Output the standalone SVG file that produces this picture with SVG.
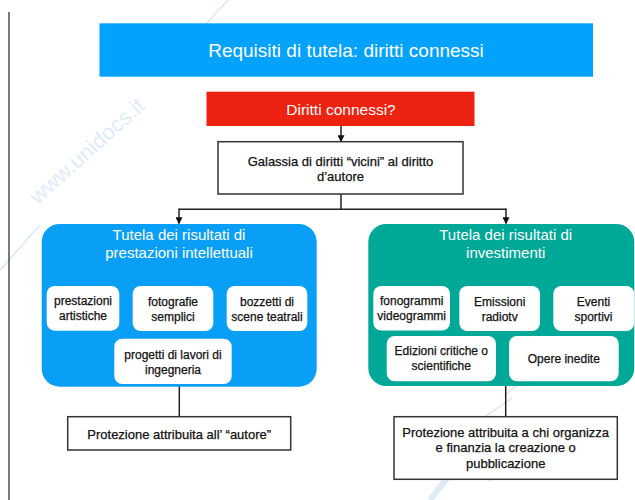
<svg xmlns="http://www.w3.org/2000/svg" width="635" height="500" viewBox="0 0 635 500">
<style>
text{font-family:"Liberation Sans",Arial,Helvetica,sans-serif;text-anchor:middle}
.w{fill:#fff}
.k{fill:#111;stroke:#111;stroke-width:0.25}
.t15{font-size:15px}
.s12{font-size:12px}
.s13{font-size:13px}
.box{fill:#fff;stroke:#333;stroke-width:1.5}
.sub{fill:#fff}
.ln{stroke:#222;stroke-width:1.5;fill:none}
.wm{stroke:#d9e9f8;stroke-width:1.5;fill:none}
</style>
<defs>
<marker id="ah" viewBox="0 0 10 10" refX="9" refY="5" markerWidth="7" markerHeight="7" markerUnits="userSpaceOnUse" orient="auto">
<path d="M0,0 L10,5 L0,10 z" fill="#111"/>
</marker>
</defs>
<rect width="635" height="500" fill="#fff"/>
<g id="watermark">
<line class="wm" x1="228" y1="0" x2="162" y2="72"/>
<line class="wm" x1="40" y1="225" x2="0" y2="270"/>
<line class="wm" x1="635" y1="283" x2="505" y2="395"/>
<line class="wm" x1="512" y1="398" x2="395" y2="478"/>
<text x="0" y="0" transform="translate(38,205) rotate(-42)" style="font-size:22px;text-anchor:start;fill:#dfecf8">www.unidocs.it</text>
<path d="M430,500 L455,468 Q468,455 480,468 L492,480" stroke="#dfecf8" stroke-width="6" fill="none"/>
</g>
<line x1="9" y1="12" x2="9" y2="500" stroke="#222" stroke-width="1.2"/>
<g id="title">
<rect x="99.5" y="23.3" width="493.5" height="53.4" fill="#03A2FD"/>
<text class="w" x="346" y="56.8" style="font-size:19px">Requisiti di tutela: diritti connessi</text>
</g>
<g id="connectors">
<line class="ln" x1="341" y1="126" x2="341" y2="141.5" marker-end="url(#ah)"/>
<polyline class="ln" points="341,194 341,209.3"/>
<polyline class="ln" points="179,209.3 506,209.3"/>
<line class="ln" x1="179" y1="208.6" x2="179" y2="223.5" marker-end="url(#ah)"/>
<line class="ln" x1="506" y1="208.6" x2="506" y2="223.5" marker-end="url(#ah)"/>
<line class="ln" x1="179.3" y1="386" x2="179.3" y2="417"/>
<line class="ln" x1="505.7" y1="386" x2="505.7" y2="417"/>
</g>
<g id="diritti">
<rect x="206.5" y="91.7" width="268" height="34.3" fill="#EE2210"/>
<text class="w" x="341" y="114.5" style="font-size:15.5px">Diritti connessi?</text>
</g>
<g id="galassia">
<rect class="box" x="218" y="141.7" width="245" height="52.3"/>
<text class="k s13" x="340.5" y="165.5">Galassia di diritti “vicini” al diritto</text>
<text class="k s13" x="340.5" y="180.7">d’autore</text>
</g>
<g id="prestazioni-intellettuali">
<rect x="41.7" y="224" width="275" height="162.7" rx="18" fill="#0A9FF6"/>
<text class="w t15" x="179" y="239.5">Tutela dei risultati di</text>
<text class="w t15" x="179" y="257.5">prestazioni intellettuali</text>
</g>
<g id="prestazioni-artistiche">
<rect class="sub" x="46.7" y="286" width="72.6" height="44.7" rx="8"/>
<text class="k s12" x="83" y="305">prestazioni</text>
<text class="k s12" x="83" y="319.5">artistiche</text>
</g>
<g id="fotografie">
<rect class="sub" x="132.7" y="286" width="80.6" height="45" rx="8"/>
<text class="k s12" x="173" y="305.5">fotografie</text>
<text class="k s12" x="173" y="320.5">semplici</text>
</g>
<g id="bozzetti">
<rect class="sub" x="226.7" y="286" width="80.6" height="45" rx="8"/>
<text class="k s12" x="267" y="305.5">bozzetti di</text>
<text class="k s12" x="267" y="320.5">scene teatrali</text>
</g>
<g id="progetti">
<rect class="sub" x="114.3" y="338.7" width="117.4" height="45.3" rx="8"/>
<text class="k s12" x="173" y="359">progetti di lavori di</text>
<text class="k s12" x="173" y="373.5">ingegneria</text>
</g>
<g id="investimenti">
<rect x="368.3" y="224" width="266" height="162" rx="18" fill="#00A898"/>
<text class="w t15" x="505.7" y="239.5">Tutela dei risultati di</text>
<text class="w t15" x="505.7" y="257.5">investimenti</text>
</g>
<g id="fonogrammi">
<rect class="sub" x="373.3" y="286" width="76.7" height="44.5" rx="8"/>
<text class="k s12" x="411.7" y="305">fonogrammi</text>
<text class="k s12" x="411.7" y="319.5">videogrammi</text>
</g>
<g id="emissioni">
<rect class="sub" x="459.3" y="286" width="80.7" height="45" rx="8"/>
<text class="k s12" x="499.7" y="305.5">Emissioni</text>
<text class="k s12" x="499.7" y="320.5">radiotv</text>
</g>
<g id="eventi">
<rect class="sub" x="553.3" y="286" width="81" height="45" rx="8"/>
<text class="k s12" x="593.5" y="305.5">Eventi</text>
<text class="k s12" x="593.5" y="320.5">sportivi</text>
</g>
<g id="edizioni">
<rect class="sub" x="386.7" y="336" width="109.3" height="45.3" rx="8"/>
<text class="k s12" x="441.3" y="355">Edizioni critiche o</text>
<text class="k s12" x="441.3" y="370">scientifiche</text>
</g>
<g id="opere">
<rect class="sub" x="509" y="336" width="109.7" height="45.3" rx="8"/>
<text class="k s12" x="563.8" y="363">Opere inedite</text>
</g>
<g id="protezione-autore">
<rect class="box" x="67.7" y="416.7" width="223" height="33.3"/>
<text class="k s13" x="179.2" y="438.5">Protezione attribuita all’ “autore”</text>
</g>
<g id="protezione-organizza">
<rect class="box" x="394" y="416.7" width="223.3" height="62.6"/>
<text class="k s13" x="505.7" y="436.5">Protezione attribuita a chi organizza</text>
<text class="k s13" x="505.7" y="452">e finanzia la creazione o</text>
<text class="k s13" x="505.7" y="467.5">pubblicazione</text>
</g>
</svg>
